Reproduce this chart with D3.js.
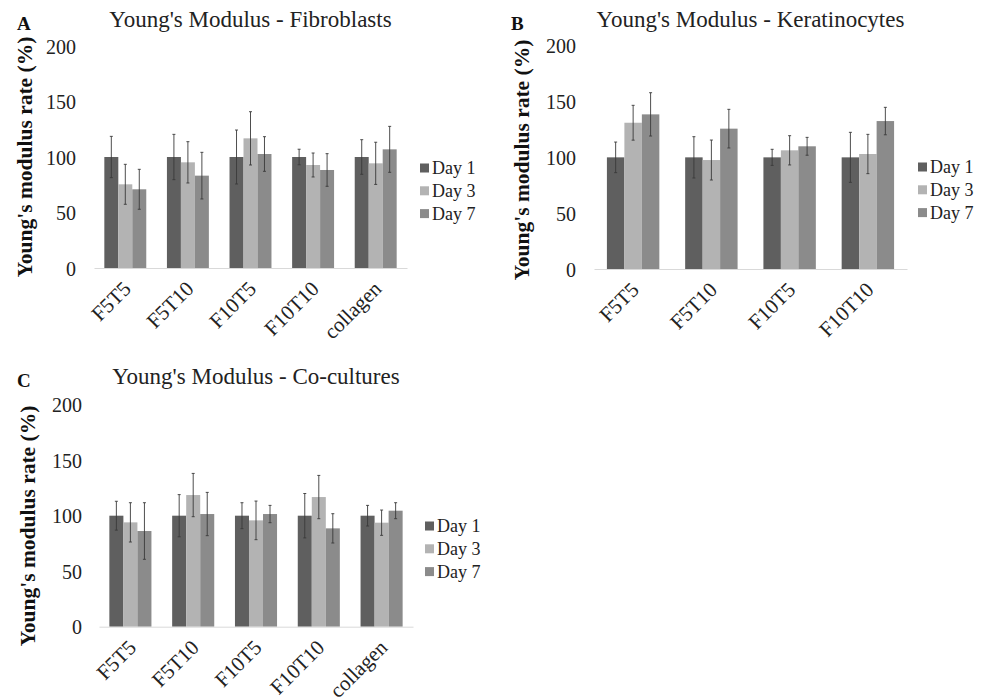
<!DOCTYPE html>
<html>
<head>
<meta charset="utf-8">
<script src="https://cdn.jsdelivr.net/npm/d3@7"></script>
<style>
  body { margin: 0; background: #fff; }
  svg { font-family: "Liberation Serif", "Times New Roman", serif; }
</style>
</head>
<body>
<div id="chart"></div>
<script>
// series names
const dayLabels = ["Day 1", "Day 3", "Day 7"];
const dayColors = ["#5f5f5f", "#b3b3b3", "#8b8b8b"];
const yTicks = [0, 50, 100, 150, 200];

// A - fibroblasts
const fibroCategories = ["F5T5", "F5T10", "F10T5", "F10T10", "collagen"];
const fibroDay1 = [100, 100, 100, 100, 100];
const fibroDay3 = [75.4, 95.2, 116.8, 92.8, 94.3];
const fibroDay7 = [70.9, 83.2, 102.7, 88.3, 106.9];
const fibroErr1 = [18.6, 20.4, 24.3, 7, 15.6];
const fibroErr3 = [18, 18.6, 24, 10.8, 19];
const fibroErr7 = [18, 21, 15.6, 14.7, 20.7];

// B - keratinocytes
const keraCategories = ["F5T5", "F5T10", "F10T5", "F10T10"];
const keraDay1 = [100, 100, 100, 100];
const keraDay3 = [131, 97.6, 106.3, 103];
const keraDay7 = [138.5, 125.7, 109.9, 132.5];
const keraErr1 = [13.7, 18.5, 7.2, 22.4];
const keraErr3 = [15.6, 17.9, 13.1, 17.6];
const keraErr7 = [19.4, 17.3, 8, 12.3];

// C - co-cultures
const coCategories = ["F5T5", "F5T10", "F10T5", "F10T10", "collagen"];
const coDay1 = [100, 100, 100, 100, 100];
const coDay3 = [94, 118.6, 95.8, 116.8, 93.7];
const coDay7 = [86.2, 101.5, 101.5, 88.6, 104.5];
const coErr1 = [13, 19, 11.7, 20, 9.3];
const coErr3 = [17.7, 19.5, 17.4, 19.5, 11.4];
const coErr7 = [25.5, 19.5, 7.8, 13.2, 7.2];

const serif = "Liberation Serif, Times New Roman, serif";

const svg = d3.select("#chart").append("svg")
  .attr("width", 987)
  .attr("height", 698);

function drawPanel(p) {
  const g = svg.append("g");

  const x = d3.scaleBand()
    .domain(p.categories)
    .range([p.x0, p.x1])
    .paddingInner(0.33)
    .paddingOuter(0.165);

  const xSub = d3.scaleBand()
    .domain([0, 1, 2])
    .range([0, x.bandwidth()]);

  const y = d3.scaleLinear()
    .domain([0, 200])
    .range([p.yBase, p.yTop]);

  // y tick labels (no axis line)
  const yAxis = g.append("g")
    .attr("transform", "translate(" + p.tickRight + ",0)")
    .call(d3.axisLeft(y).tickValues(yTicks).tickSize(0).tickPadding(0))
    .attr("font-family", serif)
    .attr("font-size", 20);
  yAxis.select(".domain").remove();
  yAxis.selectAll("text").attr("dy", "0.35em").attr("fill", "#222");

  // rows of bars
  const rows = p.categories.map((c, i) => ({
    cat: c,
    vals: p.values.map(v => v[i]),
    errs: p.errors.map(e => e[i])
  }));

  const groups = g.selectAll(".grp")
    .data(rows)
    .enter().append("g")
    .attr("class", "grp")
    .attr("transform", d => "translate(" + x(d.cat) + ",0)");

  groups.selectAll("rect")
    .data(d => d.vals.map((v, k) => ({ v: v, k: k })))
    .enter().append("rect")
    .attr("x", d => xSub(d.k))
    .attr("width", xSub.bandwidth())
    .attr("y", d => y(d.v))
    .attr("height", d => y(0) - y(d.v))
    .attr("fill", d => dayColors[d.k]);

  // x axis line
  const xAxis = g.append("g")
    .attr("transform", "translate(0," + p.yBase + ")")
    .call(d3.axisBottom(x).tickSize(0).tickPadding(0))
    .attr("font-family", serif)
    .attr("font-size", 21);
  xAxis.select(".domain").attr("stroke", "#d9d9d9").attr("stroke-width", 1);
  xAxis.selectAll("text")
    .attr("text-anchor", "end")
    .attr("fill", "#222")
    .attr("dy", 0)
    .attr("y", 0)
    .attr("transform", "translate(7,22) rotate(-45)");

  // error bars
  const err = groups.selectAll(".err")
    .data(d => d.vals.map((v, k) => ({ v: v, e: d.errs[k], k: k })))
    .enter().append("g")
    .attr("class", "err")
    .attr("stroke", "#3a3a3a")
    .attr("stroke-width", 0.9);
  err.append("line")
    .attr("x1", d => xSub(d.k) + xSub.bandwidth() / 2)
    .attr("x2", d => xSub(d.k) + xSub.bandwidth() / 2)
    .attr("y1", d => y(d.v - d.e))
    .attr("y2", d => y(d.v + d.e));
  err.selectAll(".cap")
    .data(d => [d.v - d.e, d.v + d.e].map(t => ({ t: t, k: d.k })))
    .enter().append("line")
    .attr("class", "cap")
    .attr("x1", d => xSub(d.k) + xSub.bandwidth() / 2 - 1.5)
    .attr("x2", d => xSub(d.k) + xSub.bandwidth() / 2 + 1.5)
    .attr("y1", d => y(d.t))
    .attr("y2", d => y(d.t));

  // title
  g.append("text")
    .attr("x", (p.x0 + p.x1) / 2)
    .attr("y", p.titleY)
    .attr("text-anchor", "middle")
    .attr("font-size", 23)
    .attr("fill", "#222")
    .text(p.title);

  // panel letter
  g.append("text")
    .attr("x", p.letterX)
    .attr("y", p.titleY + 3)
    .attr("font-size", 19)
    .attr("font-weight", "bold")
    .attr("fill", "#111")
    .text(p.letter);

  // y label
  g.append("text")
    .attr("transform", "translate(" + p.labelX + "," + p.labelY + ") rotate(-90)")
    .attr("text-anchor", "middle")
    .attr("dy", "0.35em")
    .attr("font-size", 21.5)
    .attr("font-weight", "bold")
    .attr("fill", "#111")
    .text("Young's modulus rate (%)");

  // legend
  const leg = g.selectAll(".leg")
    .data(dayLabels)
    .enter().append("g")
    .attr("class", "leg")
    .attr("transform", (d, i) => "translate(" + p.legendX + "," + (p.legendY + i * 22.8) + ")");
  leg.append("rect")
    .attr("x", 0)
    .attr("y", -4.5)
    .attr("width", 9)
    .attr("height", 9)
    .attr("fill", (d, i) => dayColors[i]);
  leg.append("text")
    .attr("x", 12)
    .attr("dy", "0.35em")
    .attr("font-size", 18)
    .attr("fill", "#222")
    .text(d => d);
}

drawPanel({
  letter: "A", title: "Young's Modulus - Fibroblasts",
  categories: fibroCategories,
  values: [fibroDay1, fibroDay3, fibroDay7],
  errors: [fibroErr1, fibroErr3, fibroErr7],
  x0: 94, x1: 407, yBase: 268, yTop: 46, tickRight: 76,
  titleY: 27, letterX: 17, labelX: 24, labelY: 157,
  legendX: 420, legendY: 168
});

drawPanel({
  letter: "B", title: "Young's Modulus - Keratinocytes",
  categories: keraCategories,
  values: [keraDay1, keraDay3, keraDay7],
  errors: [keraErr1, keraErr3, keraErr7],
  x0: 594, x1: 907, yBase: 269, yTop: 45.7, tickRight: 576,
  titleY: 27, letterX: 511, labelX: 521, labelY: 160,
  legendX: 918, legendY: 167
});

drawPanel({
  letter: "C", title: "Young's Modulus - Co-cultures",
  categories: coCategories,
  values: [coDay1, coDay3, coDay7],
  errors: [coErr1, coErr3, coErr7],
  x0: 99, x1: 413, yBase: 626.7, yTop: 404.7, tickRight: 82,
  titleY: 384, letterX: 17, labelX: 27, labelY: 526,
  legendX: 425, legendY: 526
});
</script>
</body>
</html>
